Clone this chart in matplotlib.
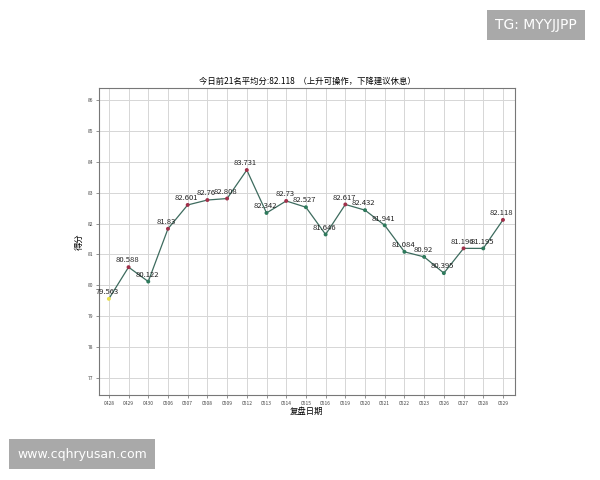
import numpy as np
import matplotlib.pyplot as plt

plt.rcParams['font.family'] = ['Noto Sans CJK SC', 'DejaVu Sans']

dates = ['0428', '0429', '0430', '0506', '0507', '0508', '0509', '0512', '0513', '0514', '0515',
         '0516', '0519', '0520', '0521', '0522', '0523', '0526', '0527', '0528', '0529']
scores = [79.563, 80.588, 80.122, 81.83, 82.601, 82.76, 82.808, 83.731, 82.342, 82.73, 82.527,
          81.646, 82.617, 82.432, 81.941, 81.084, 80.92, 80.395, 81.196, 81.195, 82.118]
yticks = [77, 78, 79, 80, 81, 82, 83, 84, 85, 86]

fig = plt.figure(figsize=(6, 4.8), dpi=100)
ax = fig.add_axes([0.165, 0.177, 0.693, 0.64])

x = np.arange(len(dates))
ax.plot(x, scores, color='#3d6b5e', linewidth=0.9, zorder=2)

# point colour: first yellow, up red, down green
cols = []
for i, v in enumerate(scores):
    if i == 0:
        cols.append('#e8e04a')
    elif v > scores[i - 1]:
        cols.append('#a0304a')
    else:
        cols.append('#2e7a5c')
ax.scatter(x, scores, s=8, c=cols, zorder=3, linewidths=0)

for xi, v in zip(x, scores):
    lab = ('%.3f' % v).rstrip('0').rstrip('.')
    ax.annotate(lab, (xi, v), xytext=(-1, 2), textcoords='offset points',
                ha='center', va='bottom', fontsize=5.5, color='#222222', zorder=4)

ax.set_xticks(x)
ax.set_xticklabels(dates, fontsize=3.5, color='#444444')
ax.set_yticks(yticks)
ax.set_yticklabels([str(t) for t in yticks], fontsize=3.5, color='#444444')
ax.tick_params(length=2, width=0.5, color='#666666', pad=2)
ax.set_xlim(-0.5, 20.6)
ax.set_ylim(76.45, 86.39)
ax.grid(True, color='#d6d6d6', linewidth=0.7, zorder=0)
for s in ax.spines.values():
    s.set_color('#777777')
    s.set_linewidth(0.8)

ax.set_title('今日前21名平均分:82.118  （上升可操作，下降建议休息）', fontsize=6, pad=3)
ax.set_xlabel('复盘日期', fontsize=6, labelpad=1)
ax.set_ylabel('得分', fontsize=6, labelpad=3)

fig.text(0.893, 0.948, 'TG: MYYJJPP', ha='center', va='center', fontsize=10, color='white',
         family=['DejaVu Sans'],
         bbox=dict(boxstyle='square,pad=0.6', facecolor='#a9a9a9', edgecolor='none'))
fig.text(0.137, 0.054, 'www.cqhryusan.com', ha='center', va='center', fontsize=9, color='white',
         family=['DejaVu Sans'],
         bbox=dict(boxstyle='square,pad=0.65', facecolor='#a9a9a9', edgecolor='none'))

plt.savefig('out.png', dpi=100)
